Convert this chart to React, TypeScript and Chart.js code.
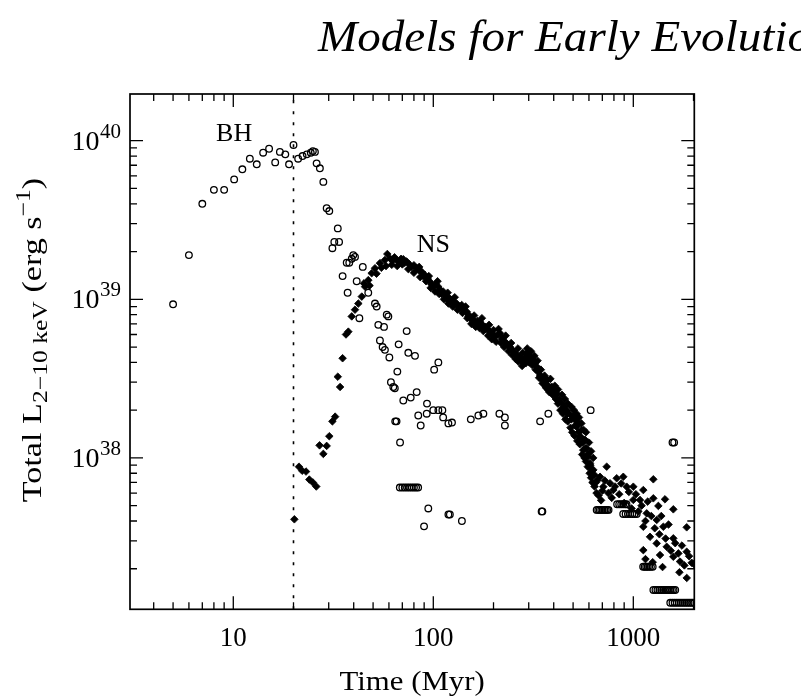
import React, { useEffect, useRef } from "react";
import { Chart, registerables } from "chart.js";

Chart.register(...registerables);

// ---------- Data (Time in Myr, L in erg/s) ----------
const bhRise: [number, number][] = [
  [5.0, 9.3e38], [6.0, 1.9e39], [7.0, 4.0e39], [8.0, 4.9e39], [9.0, 4.9e39],
  [10.1, 5.7e39], [11.1, 6.6e39], [12.1, 7.7e39], [13.1, 7.1e39], [14.1, 8.4e39],
  [15.1, 8.9e39], [16.2, 7.3e39], [17.1, 8.5e39], [18.2, 8.2e39], [19.0, 7.1e39],
  [20.0, 9.4e39], [21.1, 7.7e39], [22.2, 8.0e39], [23.3, 8.2e39], [24.4, 8.4e39],
  [25.0, 8.6e39], [25.6, 8.5e39], [26.1, 7.2e39], [27.1, 6.7e39], [28.2, 5.5e39],
];
const bhDecline: [number, number][] = [
  [29.3, 3.75e39], [30.2, 3.6e39], [33.3, 2.8e39], [32.0, 2.3e39], [33.8, 2.3e39],
  [31.3, 2.1e39], [36.9, 1.7e39], [35.2, 1.4e39], [39.8, 1.9e39], [39.1, 1.8e39],
  [38.0, 1.7e39], [40.6, 1.85e39], [44.4, 1.6e39], [41.4, 1.3e39], [47.3, 1.1e39],
  [37.3, 1.1e39], [51.1, 9.4e38], [52.1, 9.0e38], [58.5, 8.0e38], [59.6, 7.8e38],
  [42.7, 7.6e38], [53.1, 6.9e38], [56.7, 6.7e38], [73.6, 6.3e38], [54.1, 5.5e38],
  [55.8, 5.0e38], [57.3, 4.8e38], [67.1, 5.2e38], [75.0, 4.6e38], [81.0, 4.4e38],
  [60.3, 4.3e38], [106, 4.0e38], [101, 3.6e38], [66.1, 3.5e38], [61.4, 3.0e38],
  [63.1, 2.8e38], [64.2, 2.75e38], [82.6, 2.6e38], [77.1, 2.4e38], [70.8, 2.3e38],
];
const bhScatter: [number, number][] = [
  [93.0, 2.2e38], [100, 2.0e38], [106, 2.0e38], [111, 2.0e38], [84.1, 1.85e38],
  [86.5, 1.6e38], [112, 1.8e38], [119, 1.65e38], [124, 1.67e38], [92.7, 1.9e38],
  [154, 1.75e38], [168, 1.85e38], [178, 1.9e38], [214, 1.9e38], [228, 1.8e38],
  [228, 1.6e38], [342, 1.7e38], [376, 1.9e38], [612, 2.0e38], [1570, 1.25e38],
  [1600, 1.25e38], [64.5, 1.7e38], [65.5, 1.7e38], [68.2, 1.25e38], [94.4, 4.8e37],
  [89.9, 3.7e37], [119, 4.4e37], [121, 4.4e37], [139, 4.0e37], [348, 4.6e37], [351, 4.6e37],
];
const bhBars: [number, number][] = [
  [68, 6.5e37], [70, 6.5e37], [72, 6.5e37], [74, 6.5e37], [76, 6.5e37], [78, 6.5e37],
  [80, 6.5e37], [82, 6.5e37], [84, 6.5e37],
  [656, 4.7e37], [668, 4.7e37], [680, 4.7e37], [692, 4.7e37], [704, 4.7e37],
  [716, 4.7e37], [728, 4.7e37], [740, 4.7e37], [752, 4.7e37],
  [830, 5.1e37], [850, 5.1e37], [870, 5.1e37], [890, 5.1e37], [910, 5.1e37], [925, 5.1e37],
  [890, 4.43e37], [915, 4.43e37], [940, 4.43e37], [965, 4.43e37], [990, 4.43e37],
  [1015, 4.43e37], [1040, 4.43e37],
  [1120, 2.06e37], [1140, 2.06e37], [1160, 2.06e37], [1180, 2.06e37], [1200, 2.06e37],
  [1225, 2.06e37], [1250, 2.06e37],
  [1260, 1.47e37], [1290, 1.47e37], [1320, 1.47e37], [1350, 1.47e37], [1380, 1.47e37],
  [1410, 1.47e37], [1440, 1.47e37], [1470, 1.47e37], [1500, 1.47e37], [1530, 1.47e37],
  [1560, 1.47e37], [1590, 1.47e37], [1620, 1.47e37],
  [1530, 1.22e37], [1570, 1.22e37], [1610, 1.22e37], [1650, 1.22e37], [1690, 1.22e37],
  [1730, 1.22e37], [1770, 1.22e37], [1810, 1.22e37], [1850, 1.22e37], [1890, 1.22e37],
  [1930, 1.22e37], [1970, 1.22e37], [2010, 1.22e37],
];

const nsRise: [number, number][] = [
  [20.2, 4.1e37], [21.3, 8.8e37], [22.1, 8.3e37], [23.1, 8.2e37], [24.0, 7.3e37],
  [25.0, 7.0e37], [26.0, 6.6e37], [27.0, 1.2e38], [28.2, 1.06e38], [29.3, 1.19e38],
  [30.2, 1.37e38], [31.3, 1.7e38], [32.3, 1.82e38], [33.3, 3.25e38], [34.2, 2.8e38],
  [35.2, 4.25e38], [36.6, 6.0e38], [37.6, 6.25e38], [39.1, 7.8e38], [40.6, 8.6e38],
  [42.2, 9.4e38], [43.9, 1.04e39], [45.0, 1.26e39], [45.6, 1.2e39], [47.3, 1.32e39],
  [49.2, 1.46e39], [51.1, 1.57e39], [54.1, 1.69e39], [57.3, 1.77e39], [58.9, 1.93e39],
];
const nsBand: [number, number][] = [
  [60.8, 1.81e39], [62.5, 1.75e39], [64, 1.84e39], [65.6, 1.77e39], [67.5, 1.72e39],
  [69, 1.8e39], [70.8, 1.79e39], [72, 1.7e39], [73.6, 1.73e39], [76, 1.66e39],
  [78, 1.6e39], [80, 1.64e39], [82.6, 1.57e39], [85, 1.52e39], [87.5, 1.49e39],
  [89, 1.4e39], [90.9, 1.42e39], [93.5, 1.35e39], [96.3, 1.29e39], [98, 1.24e39],
  [100, 1.2e39], [103, 1.25e39], [105.9, 1.2e39], [108, 1.15e39], [112, 1.12e39],
  [114, 1.07e39], [116.7, 1.01e39], [120, 1.02e39], [123.6, 9.9e38], [127, 9.6e38],
  [130.9, 9.4e38], [134, 9.0e38], [138.7, 9.2e38], [142, 8.7e38], [146.9, 8.35e38],
  [150, 8.0e38], [152.6, 7.6e38], [157, 7.5e38], [161.6, 7.2e38], [166, 7.3e38],
  [171.2, 7.2e38], [176, 6.9e38], [181.4, 6.7e38], [186, 6.5e38], [192, 6.25e38],
  [198, 6.0e38], [203.5, 5.8e38], [210, 6.0e38], [215.6, 6.1e38], [222, 5.7e38],
  [228.4, 5.4e38], [235, 5.2e38], [241.8, 5.0e38], [246, 4.85e38], [251, 4.67e38],
  [260, 4.5e38], [271, 4.35e38], [276, 4.1e38], [282, 3.95e38], [288, 4.3e38],
  [293, 4.57e38], [299, 4.45e38], [304.5, 4.35e38], [310, 4.25e38], [316, 4.14e38],
  [322, 3.95e38], [329, 3.76e38], [335, 3.5e38], [341.7, 3.33e38], [348, 3.2e38],
  [354.8, 3.1e38], [362, 2.95e38], [368, 2.75e38], [375.8, 2.68e38], [383, 2.75e38],
  [390.8, 2.81e38], [400, 2.65e38], [414, 2.55e38], [425, 2.35e38], [438.5, 2.21e38],
  [450, 2.1e38], [464.5, 2.0e38], [480, 1.9e38], [501, 1.82e38], [515, 1.72e38],
  [521, 1.57e38], [531, 1.65e38], [541.5, 1.36e38], [552, 1.5e38], [562, 1.12e38],
  [573.5, 1.3e38], [585, 1.15e38], [595, 1.02e38], [607.7, 9.25e37], [631, 8.4e37],
];
const nsBandMid: [number, number][] = [
  [110, 1.08e39], [122, 9.7e38], [136, 8.8e38], [150, 7.8e38], [165, 7.0e38],
  [183, 6.5e38], [202, 5.9e38], [220, 5.6e38], [240, 5.0e38], [255, 4.6e38],
  [272, 4.2e38], [285, 4.1e38], [298, 4.3e38], [315, 4.0e38], [330, 3.6e38],
  [350, 3.1e38], [370, 2.9e38], [388, 2.7e38], [408, 2.5e38], [428, 2.25e38],
  [448, 2.05e38], [468, 1.9e38], [490, 1.75e38], [512, 1.6e38], [532, 1.45e38],
  [548, 1.35e38], [560, 1.25e38], [575, 1.15e38], [590, 1.05e38], [610, 9.0e37],
  [622, 8.4e37], [640, 7.8e37], [660, 7.2e37],
];
const nsBandLower: [number, number][] = [
  [48, 1.22e39], [52, 1.45e39], [55, 1.58e39], [58, 1.62e39], [62, 1.65e39],
  [66, 1.62e39], [70, 1.66e39], [75, 1.55e39], [80, 1.47e39], [86, 1.38e39],
  [92, 1.3e39], [97, 1.18e39], [102, 1.12e39], [107, 1.08e39], [113, 1.0e39],
  [119, 9.4e38], [125, 9.0e38], [132, 8.6e38], [140, 8.2e38], [148, 7.6e38],
  [155, 7.0e38], [163, 6.7e38], [170, 6.6e38], [178, 6.3e38], [188, 5.9e38],
  [196, 5.6e38], [206, 5.4e38], [218, 5.3e38], [226, 5.0e38], [238, 4.7e38],
  [248, 4.45e38], [258, 4.2e38], [266, 4.05e38], [278, 3.8e38], [290, 3.95e38],
  [302, 4.0e38], [312, 3.85e38], [325, 3.6e38], [338, 3.2e38], [352, 2.95e38],
  [365, 2.8e38], [380, 2.6e38], [395, 2.5e38], [410, 2.35e38], [420, 2.2e38],
  [432, 2.0e38], [445, 1.9e38], [458, 1.75e38], [470, 1.7e38], [485, 1.55e38],
  [495, 1.45e38], [508, 1.38e38], [525, 1.28e38], [540, 1.22e38], [555, 1.05e38],
  [570, 1.0e38], [580, 9.5e37], [592, 8.8e37], [605, 8.0e37], [615, 7.5e37],
  [625, 7.0e37], [640, 6.6e37], [655, 6.0e37], [670, 5.8e37], [690, 5.4e37],
];
const nsBandUpper: [number, number][] = [
  [85, 1.6e39], [95, 1.4e39], [105, 1.3e39], [118, 1.1e39], [128, 1.03e39],
  [145, 9.0e38], [160, 7.9e38], [175, 7.6e38], [190, 6.9e38], [200, 6.4e38],
  [212, 6.5e38], [230, 5.9e38], [245, 5.3e38], [265, 4.9e38], [280, 4.6e38],
  [295, 4.9e38], [308, 4.7e38], [320, 4.4e38], [332, 4.1e38], [345, 3.6e38],
  [360, 3.3e38], [372, 3.1e38], [385, 3.15e38], [405, 2.85e38], [420, 2.7e38],
  [440, 2.5e38], [455, 2.35e38], [470, 2.2e38], [490, 2.1e38], [505, 2.0e38],
  [520, 1.9e38], [535, 1.8e38], [550, 1.65e38], [565, 1.5e38], [580, 1.45e38],
  [600, 1.25e38], [615, 1.1e38], [630, 1.0e38],
];
const nsTail: [number, number][] = [
  [681.7, 7.6e37], [708, 6.58e37], [736, 8.8e37], [764.6, 6.92e37], [794, 6.27e37],
  [826, 7.44e37], [891, 7.6e37], [926.8, 6.58e37], [1000, 6.58e37], [1000, 5.43e37],
  [1080, 5.43e37], [1122, 6.27e37], [1259, 7.33e37], [1259, 5.56e37], [1334, 4.98e37],
  [1440, 5.48e37], [1585, 4.74e37], [1167, 4.47e37], [1309, 4.06e37], [1413, 3.68e37],
  [1849, 3.65e37], [1122, 3.68e37], [1212, 3.18e37], [1309, 2.89e37], [1469, 2.75e37],
  [1585, 3.11e37], [1122, 2.62e37], [1360, 2.44e37], [1585, 2.38e37], [1849, 2.56e37],
  [1712, 2.22e37], [1958, 2.18e37],
  [650, 7.0e37], [700, 6.2e37], [720, 7.2e37], [750, 6.0e37], [780, 5.6e37],
  [810, 6.6e37], [850, 5.9e37], [870, 6.9e37], [900, 5.2e37], [950, 6.1e37],
  [980, 4.8e37], [1030, 5.9e37], [1060, 4.6e37], [1100, 5.0e37], [1150, 4.0e37],
  [1180, 5.3e37], [1230, 4.3e37], [1280, 3.6e37], [1350, 3.3e37], [1380, 4.3e37],
  [1450, 3.1e37], [1500, 3.8e37], [1540, 2.6e37], [1620, 2.9e37], [1680, 2.5e37],
  [1750, 2.8e37], [1800, 2.1e37], [1900, 2.4e37], [2000, 2.15e37], [1250, 2.2e37],
  [1400, 2.05e37], [1700, 1.9e37], [1850, 1.75e37], [1150, 2.3e37],
];

const xMin = 3.045;
const xMax = 2018;
const yMin = 1.11e37;
const yMax = 1.97e40;

const dividerTime = [20, 20];
const dividerLum = [yMin, yMax];

const xTickValues = [10, 100, 1000];
const xTickLabels = ["10", "100", "1000"];
const yTickValues = [1e38, 1e39, 1e40];
const yTickExponents = ["38", "39", "40"];
const xDecades = [1, 10, 100, 1000];
const yDecades = [1e37, 1e38, 1e39, 1e40];
const minorMultipliers = [1, 2, 3, 4, 5, 6, 7, 8, 9];

const annoText = ["BH", "NS"];
const annoTime = [10.1, 100];
const annoLum = [1.0e40, 2.0e39];

const titleText = "Models for Early Evolution";
const xTitle = "Time (Myr)";

const FONT = '"Liberation Serif", "Times New Roman", serif';

const toPts = (arr: [number, number][]) => arr.map(([x, y]) => ({ x, y }));

const decorPlugin = {
  id: "decor",
  afterDatasetsDraw(chart: any) {
    const ctx: CanvasRenderingContext2D = chart.ctx;
    const { left, right, top, bottom } = chart.chartArea;
    const xs = chart.scales.x;
    const ys = chart.scales.y;
    ctx.save();
    ctx.strokeStyle = "#000";
    ctx.fillStyle = "#000";

    // frame
    ctx.lineWidth = 1.7;
    ctx.strokeRect(left, top, right - left, bottom - top);

    // ticks (inward)
    ctx.lineWidth = 1.3;
    ctx.beginPath();
    for (const d of xDecades) {
      for (const m of minorMultipliers) {
        const v = d * m;
        if (v < xMin || v > xMax) continue;
        const px = xs.getPixelForValue(v);
        const len = m === 1 ? 13 : 7;
        ctx.moveTo(px, bottom);
        ctx.lineTo(px, bottom - len);
        ctx.moveTo(px, top);
        ctx.lineTo(px, top + len);
      }
    }
    for (const d of yDecades) {
      for (const m of minorMultipliers) {
        const v = d * m;
        if (v < yMin || v > yMax) continue;
        const py = ys.getPixelForValue(v);
        const len = m === 1 ? 13 : 7;
        ctx.moveTo(left, py);
        ctx.lineTo(left + len, py);
        ctx.moveTo(right, py);
        ctx.lineTo(right - len, py);
      }
    }
    ctx.stroke();

    // x tick labels
    ctx.font = `27px ${FONT}`;
    ctx.textAlign = "center";
    ctx.textBaseline = "alphabetic";
    xTickValues.forEach((v, i) => {
      const px = xs.getPixelForValue(v);
      ctx.fillText(xTickLabels[i], px, 646);
    });

    // y tick labels 10^n
    yTickValues.forEach((v, i) => {
      const py = ys.getPixelForValue(v);
      const base = py + 9;
      ctx.font = `21px ${FONT}`;
      ctx.textAlign = "right";
      const supW = ctx.measureText(yTickExponents[i]).width;
      const rightEdge = 121;
      ctx.fillText(yTickExponents[i], rightEdge, base - 12);
      ctx.font = `28px ${FONT}`;
      ctx.fillText("10", rightEdge - supW - 0.5, base);
    });

    // x title
    ctx.save();
    ctx.font = `28px ${FONT}`;
    ctx.textAlign = "center";
    ctx.translate((left + right) / 2, 690);
    ctx.scale(1.1, 1);
    ctx.fillText(xTitle, 0, 0);
    ctx.restore();

    // y title (rich text, rotated)
    const segs = [
      { t: "Total L", s: 28, dy: 0 },
      { t: "2\u221210 keV", s: 21, dy: 6 },
      { t: " (erg s", s: 28, dy: 0 },
      { t: "\u22121", s: 21, dy: -11 },
      { t: ")", s: 28, dy: 0 },
    ];
    ctx.save();
    ctx.translate(41, 340);
    ctx.rotate(-Math.PI / 2);
    ctx.scale(1.22, 1);
    ctx.textAlign = "left";
    let total = 0;
    for (const sg of segs) {
      ctx.font = `${sg.s}px ${FONT}`;
      total += ctx.measureText(sg.t).width;
    }
    let cx = -total / 2;
    for (const sg of segs) {
      ctx.font = `${sg.s}px ${FONT}`;
      ctx.fillText(sg.t, cx, sg.dy);
      cx += ctx.measureText(sg.t).width;
    }
    ctx.restore();

    // annotations
    ctx.font = `26px ${FONT}`;
    ctx.textAlign = "center";
    annoText.forEach((txt, i) => {
      ctx.fillText(txt, xs.getPixelForValue(annoTime[i]), ys.getPixelForValue(annoLum[i]));
    });

    // page title
    ctx.save();
    ctx.font = `italic 44px ${FONT}`;
    ctx.textAlign = "left";
    ctx.translate(318, 51);
    ctx.scale(1.07, 1);
    ctx.fillText(titleText, 0, 0);
    ctx.restore();

    ctx.restore();
  },
};

export default function App() {
  const ref = useRef<HTMLCanvasElement | null>(null);
  useEffect(() => {
    if (!ref.current) return;
    const circleStyle = {
      pointStyle: "circle",
      pointRadius: 3.3,
      pointBorderWidth: 1.3,
      borderColor: "#000",
      backgroundColor: "rgba(0,0,0,0)",
      pointBackgroundColor: "rgba(0,0,0,0)",
      pointBorderColor: "#000",
      showLine: false,
    };
    const nsStyle = {
      pointStyle: "rectRot",
      pointRadius: 3.8,
      pointBorderWidth: 0.8,
      borderColor: "#000",
      backgroundColor: "#000",
      pointBackgroundColor: "#000",
      pointBorderColor: "#000",
      showLine: false,
    };
    const chart = new Chart(ref.current, {
      type: "scatter",
      data: {
        datasets: [
          { label: "BH rise", data: toPts(bhRise), ...circleStyle } as any,
          { label: "BH decline", data: toPts(bhDecline), ...circleStyle } as any,
          { label: "BH scatter", data: toPts(bhScatter), ...circleStyle } as any,
          { label: "BH bars", data: toPts(bhBars), ...circleStyle } as any,
          { label: "NS rise", data: toPts(nsRise), ...nsStyle } as any,
          { label: "NS band", data: toPts(nsBand), ...nsStyle } as any,
          { label: "NS band mid", data: toPts(nsBandMid), ...nsStyle } as any,
          { label: "NS band lower", data: toPts(nsBandLower), ...nsStyle } as any,
          { label: "NS band upper", data: toPts(nsBandUpper), ...nsStyle } as any,
          { label: "NS tail", data: toPts(nsTail), ...nsStyle } as any,
          {
            type: "line",
            label: "divider",
            data: dividerTime.map((x, i) => ({ x, y: dividerLum[i] })),
            borderColor: "#000",
            borderWidth: 1.6,
            borderDash: [3, 8],
            pointRadius: 0,
            showLine: true,
            fill: false,
          } as any,
        ],
      },
      options: {
        responsive: false,
        animation: false,
        events: [],
        layout: { padding: { left: 130, top: 94, right: 106.7, bottom: 89.7 } },
        plugins: { legend: { display: false }, tooltip: { enabled: false } },
        scales: {
          x: { type: "logarithmic", min: xMin, max: xMax, display: false },
          y: { type: "logarithmic", min: yMin, max: yMax, display: false },
        },
      },
      plugins: [decorPlugin],
    });
    return () => chart.destroy();
  }, []);
  return (
    <div style={{ position: "absolute", left: 0, top: 0, width: 801, height: 699, background: "#fff" }}>
      <canvas ref={ref} width={801} height={699} style={{ display: "block", width: 801, height: 699 }} />
    </div>
  );
}
